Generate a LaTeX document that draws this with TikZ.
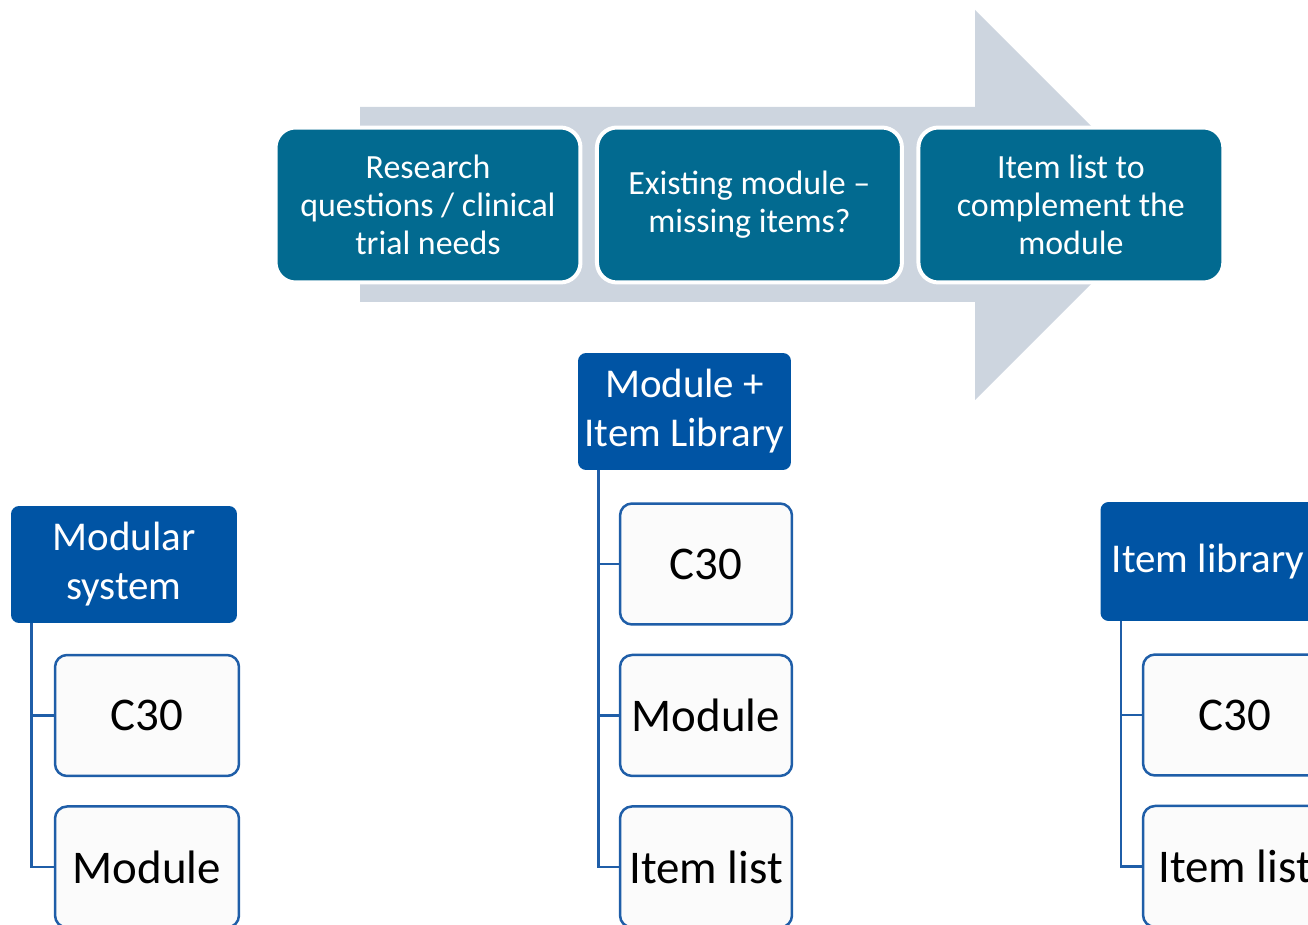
\documentclass[tikz,border=0pt]{standalone}
\usepackage{fontspec}
\setmainfont{Carlito}
\usepackage{xcolor}
\definecolor{colorArrow}{HTML}{CDD5DF}
\definecolor{colorStep}{HTML}{026A90}
\definecolor{colorHead}{HTML}{0054A4}
\definecolor{colorItem}{HTML}{1F5EA8}
\definecolor{colorItemFill}{HTML}{FBFBFB}
\usetikzlibrary{positioning}
\tikzset{
  stepbox/.style={rectangle, rounded corners=0.4cm, fill=colorStep, draw=white, line width=0.08cm,
    minimum width=6.1cm, minimum height=3.1cm, inner sep=2pt, text=white, align=center,
    font=\fontsize{19.3}{21.6}\selectfont},
  headbox/.style={rectangle, rounded corners=0.16cm, fill=colorHead, minimum height=2.34cm,
    inner sep=2pt, text=white, align=center, font=\fontsize{23.3}{27.9}\selectfont},
  itembox/.style={rectangle, rounded corners=0.24cm, fill=colorItemFill, draw=colorItem,
    line width=0.05cm, minimum height=2.42cm, inner sep=2pt, font=\fontsize{26.7}{30}\selectfont},
  link/.style={draw=colorItem, line width=0.05cm}
}

\begin{document}
\begin{tikzpicture}[x=0.02cm, y=-0.02cm]
\clip (0,0) rectangle (1308,925);
% big arrow behind the steps
\fill[colorArrow] (360,107) -- (975,107) -- (975,10) -- (1170,205) -- (975,400) -- (975,302) -- (360,302) -- cycle;

\node[stepbox] (s1) at (428,205) {Research\\questions / clinical\\trial needs};
\node[stepbox, right=0.25cm of s1] (s2) {Existing module --\\missing items?};
\node[stepbox, right=0.25cm of s2] (s3) {Item list to\\complement the\\module};

% three trees
\node[headbox, minimum width=4.52cm] (hA) at (124,564.5) {Modular\\system};
\node[itembox, minimum width=3.68cm] (cA1) at (147,715.5) {C30};
\node[itembox, minimum width=3.68cm, below=0.56cm of cA1] (cA2) {Module};

\node[headbox, minimum width=4.26cm] (hB) at (684.5,411.5) {Module +\\Item Library};
\node[itembox, minimum width=3.44cm] (cB1) at (706,564) {C30};
\node[itembox, minimum width=3.44cm, below=0.56cm of cB1] (cB2) {Module};
\node[itembox, minimum width=3.44cm, below=0.56cm of cB2] (cB3) {Item list};

\node[headbox, minimum width=4.3cm, minimum height=2.38cm] (hC) at (1208,561.5) {Item library};
\node[itembox, minimum width=3.68cm] (cC1) at (1235,715) {C30};
\node[itembox, minimum width=3.68cm, below=0.56cm of cC1] (cC2) {Item list};

\foreach \c in {cA1,cA2} \draw[link] ([xshift=0.42cm]hA.south west) |- (\c.west);
\foreach \c in {cB1,cB2,cB3} \draw[link] ([xshift=0.42cm]hB.south west) |- (\c.west);
\foreach \c in {cC1,cC2} \draw[link] ([xshift=0.42cm]hC.south west) |- (\c.west);
\end{tikzpicture}
\end{document}
